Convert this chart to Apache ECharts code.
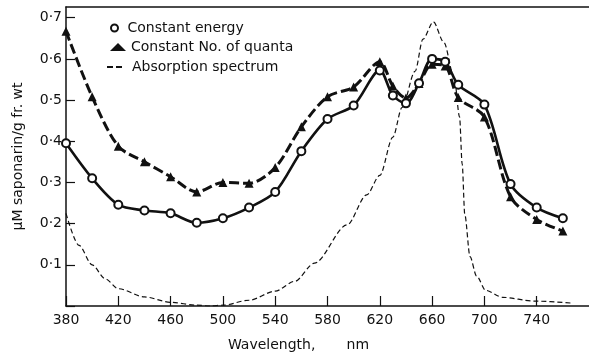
<!DOCTYPE html>
<html>
<head>
<meta charset="utf-8">
<script src="https://cdn.jsdelivr.net/npm/echarts@6/dist/echarts.min.js"></script>
<style>html,body{margin:0;padding:0;background:#fff}#c{width:589px;height:357px}</style>
</head>
<body>
<div id="c"></div>
<script>
// Wavelength (nm) of measured points
const wavelengths = [380, 400, 420, 440, 460, 480, 500, 520, 540, 560, 580, 600, 620, 630, 640, 650, 660, 670, 680, 700, 720, 740, 760];
// Constant energy (µM saponarin / g fr. wt)
const constEnergy = [0.395, 0.31, 0.246, 0.232, 0.225, 0.202, 0.213, 0.239, 0.277, 0.376, 0.454, 0.487, 0.572, 0.511, 0.492, 0.541, 0.600, 0.593, 0.537, 0.489, 0.296, 0.239, 0.213];
// Constant number of quanta
const constQuanta = [0.667, 0.508, 0.388, 0.35, 0.314, 0.277, 0.30, 0.298, 0.336, 0.435, 0.508, 0.532, 0.593, 0.534, 0.505, 0.54, 0.587, 0.583, 0.506, 0.459, 0.265, 0.21, 0.182];
// Absorption spectrum (relative, on same scale)
const absWl = [380, 390, 400, 410, 420, 440, 460, 480, 490, 500, 520, 540, 555, 570, 595, 610, 620, 630, 637, 647, 653, 661, 669, 677, 681, 683, 685, 689, 694, 701, 714, 738, 767];
const absVal = [0.225, 0.147, 0.100, 0.066, 0.042, 0.022, 0.009, 0.002, 0.0, 0.002, 0.014, 0.036, 0.060, 0.104, 0.197, 0.27, 0.317, 0.41, 0.482, 0.57, 0.648, 0.69, 0.64, 0.553, 0.459, 0.345, 0.222, 0.12, 0.073, 0.038, 0.021, 0.012, 0.007];
const xTicks = [380, 420, 460, 500, 540, 580, 620, 660, 700, 740];
const yTicks = [0.1, 0.2, 0.3, 0.4, 0.5, 0.6, 0.7];

const FONT = 'DejaVu Sans';
const INK = '#111';
const pair = (xs, ys) => xs.map((x, i) => [x, ys[i]]);

const chart = echarts.init(document.getElementById('c'), null, {renderer: 'canvas'});
chart.setOption({
  animation: false,
  backgroundColor: '#fff',
  grid: {left: 66, top: 7, bottom: 43, right: -17, containLabel: false},
  legend: [
    {data: [{name: 'Constant energy', icon: 'emptyCircle'}], left: 105, top: 16, orient: 'vertical',
     itemWidth: 16, itemHeight: 7, selectedMode: false,
     textStyle: {fontFamily: FONT, fontSize: 14, color: INK}},
    {data: [{name: 'Constant No. of quanta', icon: 'triangle'}], left: 105, top: 35, orient: 'vertical',
     itemWidth: 16, itemHeight: 8, selectedMode: false,
     textStyle: {fontFamily: FONT, fontSize: 14, color: INK}},
    {data: [{name: 'Absorption spectrum', icon: 'path://M0,0h6v2h-6z M9,0h6v2h-6z'}], left: 102, top: 55, orient: 'vertical',
     itemWidth: 15, itemHeight: 2, selectedMode: false,
     textStyle: {fontFamily: FONT, fontSize: 14, color: INK, padding: [0, 0, 0, 5]}}
  ],
  xAxis: [{
    type: 'value', min: 380, max: 780, interval: 40,
    name: 'Wavelength,       nm', nameLocation: 'middle', nameGap: 32,
    nameTextStyle: {fontFamily: FONT, fontSize: 14, color: INK, padding: [0, 58, 0, 0]},
    axisLine: {show: true, lineStyle: {color: INK, width: 1.5}},
    axisTick: {show: true, inside: true, length: 10, lineStyle: {color: INK, width: 1.2}},
    axisLabel: {fontFamily: FONT, fontSize: 14, color: INK, margin: 7, showMaxLabel: false,
      formatter: v => xTicks.includes(Math.round(v)) ? String(Math.round(v)) : ''},
    splitLine: {show: false}
  }, {
    type: 'value', min: 380, max: 780, position: 'top',
    axisLine: {show: true, lineStyle: {color: INK, width: 1.5}},
    axisTick: {show: false}, axisLabel: {show: false}, splitLine: {show: false}
  }],
  yAxis: {
    type: 'value', min: 0, max: 0.726, interval: 0.1,
    name: 'μM saponarin/g fr. wt', nameLocation: 'middle', nameGap: 41,
    nameTextStyle: {fontFamily: FONT, fontSize: 14, color: INK},
    axisLine: {show: true, lineStyle: {color: INK, width: 1.5}},
    axisTick: {show: true, inside: true, length: 9, lineStyle: {color: INK, width: 1.2}},
    axisLabel: {fontFamily: FONT, fontSize: 14, color: INK, margin: 4, showMaxLabel: false,
      formatter: v => {
        const r = Math.round(v * 10) / 10;
        return yTicks.includes(r) && Math.abs(v - r) < 1e-6 ? r.toFixed(1).replace('.', '·') : '';
      }},
    splitLine: {show: false}
  },
  series: [
    {
      name: 'Absorption spectrum', type: 'line', data: pair(absWl, absVal),
      smooth: 0.3, smoothMonotone: 'x', showSymbol: false, symbol: 'none',
      lineStyle: {color: INK, width: 1.2, type: [5, 3]}, itemStyle: {color: INK}, z: 2
    },
    {
      name: 'Constant No. of quanta', type: 'line', data: pair(wavelengths, constQuanta),
      smooth: 0.3, symbol: 'triangle', symbolSize: 9,
      lineStyle: {color: INK, width: 3, type: [10, 4]}, itemStyle: {color: INK}, z: 3
    },
    {
      name: 'Constant energy', type: 'line', data: pair(wavelengths, constEnergy),
      smooth: 0.3, symbol: 'emptyCircle', symbolSize: 8,
      lineStyle: {color: INK, width: 2.6}, itemStyle: {color: INK, borderWidth: 1.2}, z: 4
    }
  ]
});
</script>
</body>
</html>
